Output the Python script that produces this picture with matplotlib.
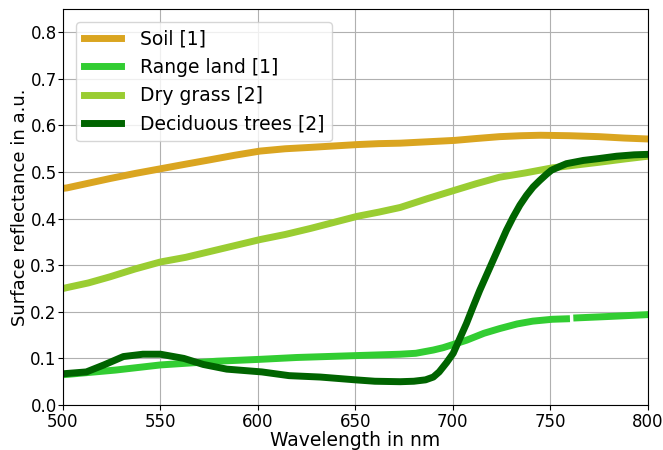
import numpy as np
import matplotlib
matplotlib.use("Agg")
import matplotlib.pyplot as plt

# Reflectance spectra (wavelength in nm)
soil_wl = [500, 502, 513, 524, 537, 550, 563, 575, 588, 601, 614, 627, 639, 651, 662, 673, 687, 701,
           712, 724, 735, 745, 760, 775, 788, 800]
soil_r = [0.465, 0.466, 0.476, 0.486, 0.497, 0.507, 0.517, 0.526, 0.536, 0.545, 0.550, 0.553, 0.556, 0.559,
          0.561, 0.562, 0.565, 0.568, 0.572, 0.576, 0.578, 0.579, 0.578, 0.576, 0.573, 0.571]

# short gap in the range land record around 760 nm
range_wl = [500, 503, 527, 550, 579, 601, 620, 650, 673, 681, 690, 695, 701, 707, 716, 724, 733, 741, 751,
            758.3, 761, 763.6, 780, 800]
range_r = [0.065, 0.066, 0.075, 0.086, 0.094, 0.098, 0.102, 0.106, 0.109, 0.111, 0.118, 0.123, 0.131,
           0.139, 0.154, 0.164, 0.174, 0.180, 0.184, 0.185, np.nan, 0.187, 0.190, 0.194]

grass_wl = [500, 502, 513, 524, 537, 550, 563, 575, 588, 601, 614, 627, 639, 651, 662, 673, 687, 701,
            712, 724, 737, 751, 763, 775, 788, 800]
grass_r = [0.250, 0.252, 0.262, 0.275, 0.292, 0.307, 0.317, 0.329, 0.342, 0.355, 0.366, 0.379, 0.392,
           0.405, 0.414, 0.424, 0.443, 0.461, 0.475, 0.489, 0.498, 0.509, 0.515, 0.521, 0.528, 0.534]

trees_wl = [500, 503, 512, 521, 531, 541, 550, 562, 572, 584, 602, 616, 632, 650, 660, 673, 680, 686,
            690, 693, 696.8, 700.2, 703.6, 707, 710.4, 713.8, 717.3, 720.7, 724.1, 727.5, 730.9,
            734.4, 737.8, 741.2, 744.6, 748, 750.6, 754.9, 758.3, 767, 775, 784, 793, 800]
trees_r = [0.067, 0.068, 0.071, 0.086, 0.104, 0.109, 0.109, 0.100, 0.087, 0.077, 0.071, 0.063, 0.060,
           0.054, 0.051, 0.050, 0.051, 0.054, 0.060, 0.071, 0.091, 0.111, 0.143, 0.175, 0.211, 0.246,
           0.279, 0.311, 0.343, 0.375, 0.403, 0.429, 0.450, 0.468, 0.482, 0.495, 0.504, 0.512, 0.518,
           0.525, 0.529, 0.534, 0.537, 0.538]

fig, ax = plt.subplots(figsize=(6.63, 4.5), dpi=100)
fig.subplots_adjust(left=0.095, right=0.977, top=0.98, bottom=0.1)

lw = 5
ax.plot(soil_wl, soil_r, color="goldenrod", lw=lw, label="Soil [1]")
ax.plot(range_wl, range_r, color="limegreen", lw=lw, label="Range land [1]")
ax.plot(grass_wl, grass_r, color="yellowgreen", lw=lw, label="Dry grass [2]")
ax.plot(trees_wl, trees_r, color="darkgreen", lw=lw, label="Deciduous trees [2]")

ax.set_xlim(500, 800)
ax.set_ylim(0, 0.85)
ax.set_xticks(np.arange(500, 801, 50))
ax.set_yticks(np.arange(0, 0.81, 0.1))
ax.tick_params(axis="x", labelsize=12, pad=2)
ax.tick_params(axis="y", labelsize=12, pad=1)
ax.grid(True)
ax.set_xlabel("Wavelength in nm", fontsize=13.5, labelpad=0)
ax.set_ylabel("Surface reflectance in a.u.", fontsize=13, labelpad=1)
ax.legend(loc="upper left", fontsize=13.5, handletextpad=1.0, borderaxespad=0.7)

fig.savefig("out.png")
